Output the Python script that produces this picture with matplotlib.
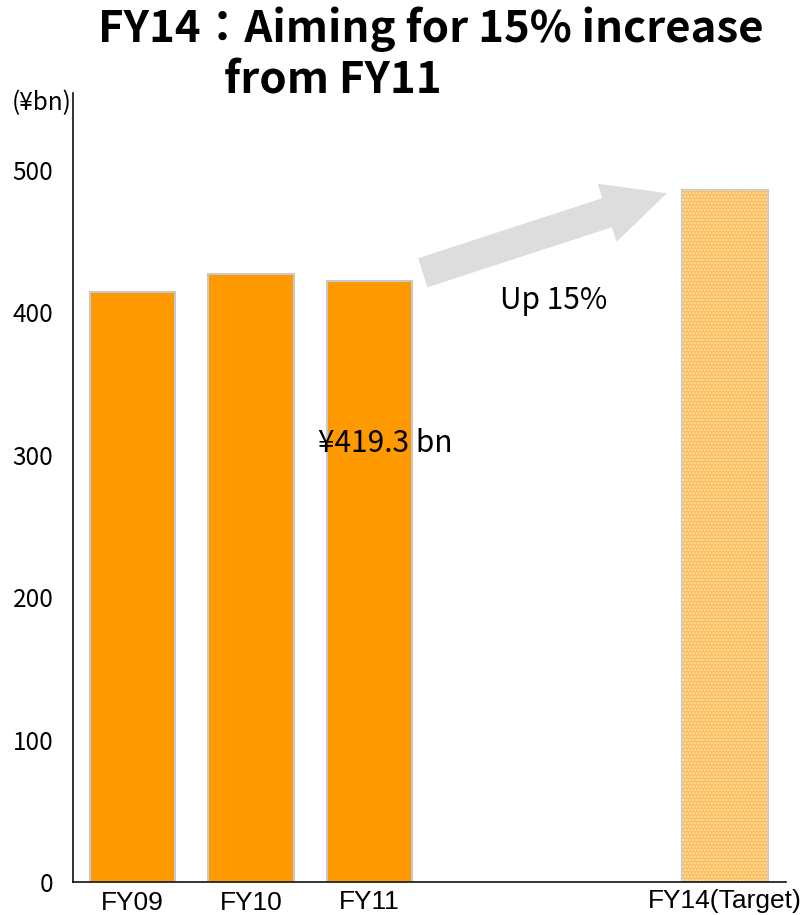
import matplotlib
matplotlib.use('Agg')
import matplotlib.pyplot as plt
from matplotlib import font_manager

# chart data
years = ['FY09', 'FY10', 'FY11', 'FY14(Target)']
positions = [0, 1, 2, 5]
sales = [414, 427, 422, 486]
y_ticks = [0, 100, 200, 300, 400, 500]
fy11_label = '¥419.3 bn'
growth_label = 'Up 15%'
title_1 = 'FY14：Aiming for 15% increase'
title_2 = 'from FY11'
unit_label = '(¥bn)'

installed = {f.name for f in font_manager.fontManager.ttflist}
narrow = 'Liberation Sans Narrow' if 'Liberation Sans Narrow' in installed else 'Liberation Sans'
jp = 'Noto Sans CJK JP'

fig = plt.figure(figsize=(8.11, 9.15), dpi=100)
ax = fig.add_axes([0.09, 0.0361, 0.8792, 0.862])

# actual years, solid orange
ax.bar(positions[:3], sales[:3], width=0.725, color='#ff9900',
       edgecolor='#c8c8c8', linewidth=1.5, zorder=2)
# target year, dotted light orange
ax.bar(positions[3], sales[3], width=0.725, color='#ffbe5c',
       edgecolor='#c8c8c8', linewidth=1.5, zorder=2)
ax.bar(positions[3], sales[3], width=0.725, color='none',
       edgecolor='#ffe4b8', hatch='.....', linewidth=0, zorder=3)

# growth arrow from FY11 to target
ax.annotate('', xy=(4.51, 483.5), xytext=(2.45, 427.7),
            arrowprops=dict(arrowstyle='simple,head_length=1.03,head_width=1.0,tail_width=0.5',
                            mutation_scale=44, color='#dddddd', lw=0,
                            shrinkA=0, shrinkB=0), zorder=1)

ax.text(3.55, 408, growth_label, ha='center', va='center', fontsize=21.5,
        family=[jp, 'DejaVu Sans'])
ax.text(2.13, 308, fy11_label, ha='center', va='center', fontsize=21.5,
        family=[jp, 'DejaVu Sans'], zorder=4)

ax.set_xlim(-0.502, 5.515)
ax.set_ylim(0, 553.7)
ax.set_yticks(y_ticks)
ax.set_yticklabels([str(v) for v in y_ticks], fontsize=17.5, family=[jp, 'DejaVu Sans'])
ax.set_xticks(positions)
xsize = 21 if narrow == 'Liberation Sans Narrow' else 19
ax.set_xticklabels(years, fontsize=xsize, family=[narrow, 'DejaVu Sans'])
ax.tick_params(axis='y', length=0, pad=14)
ax.tick_params(axis='x', length=0)
for tick, pad in zip(ax.xaxis.get_major_ticks(), [6.5, 6.3, 6, 5]):
    tick.set_pad(pad)

for side in ['top', 'right']:
    ax.spines[side].set_visible(False)
for side in ['left', 'bottom']:
    ax.spines[side].set_linewidth(1.2)
    ax.spines[side].set_color('#111111')

# title and unit
fig.text(98 / 811, 1 - 42 / 915, title_1, ha='left', va='baseline', fontsize=31.5,
         fontweight='bold', family=[jp, 'DejaVu Sans'])
fig.text(224 / 811, 1 - 93 / 915, title_2, ha='left', va='baseline', fontsize=31.5,
         fontweight='bold', family=[jp, 'DejaVu Sans'])
fig.text(12 / 811, 1 - 103 / 915, unit_label, ha='left', va='center', fontsize=17.5,
         family=[jp, 'DejaVu Sans'])

fig.savefig('out.png', dpi=100)
